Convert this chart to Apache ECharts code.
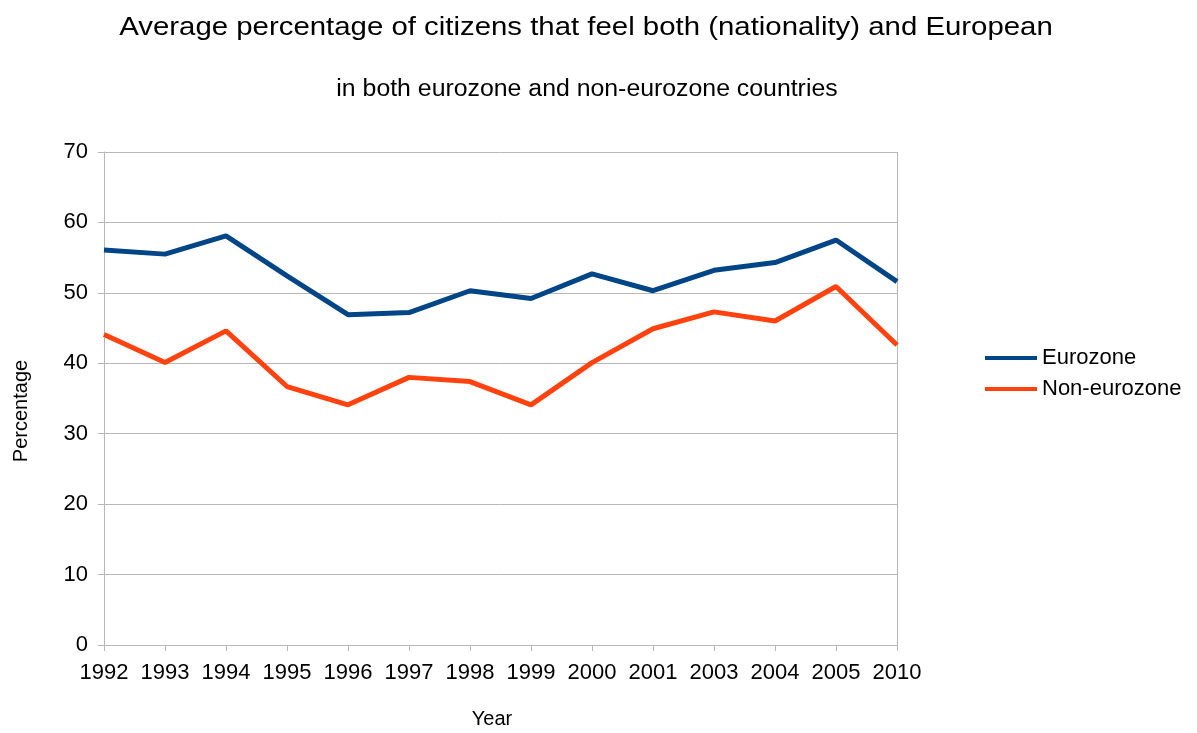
<!DOCTYPE html>
<html>
<head>
<meta charset="utf-8">
<script src="https://cdn.jsdelivr.net/npm/echarts@6/dist/echarts.min.js"></script>
<style>
  html, body { margin: 0; padding: 0; background: #fff; }
  #chart { width: 1197px; height: 733px; }
</style>
</head>
<body>
<div id="chart"></div>
<script>
// Survey years shown on the category axis
const years = ['1992', '1993', '1994', '1995', '1996', '1997', '1998', '1999', '2000', '2001', '2003', '2004', '2005', '2010'];

// Average share (%) of citizens feeling both national and European
const eurozone = [56.1, 55.5, 58.1, 52.4, 46.9, 47.2, 50.3, 49.2, 52.7, 50.3, 53.2, 54.3, 57.5, 51.6];
const nonEurozone = [44.1, 40.1, 44.6, 36.7, 34.1, 38.0, 37.4, 34.1, 40.1, 44.9, 47.3, 46.0, 50.9, 42.6];

const FONT = '"Liberation Sans", Arial, sans-serif';
const GRID_COLOR = '#b8b8b8';

const chart = echarts.init(document.getElementById('chart'), null, { renderer: 'canvas' });

chart.setOption({
  animation: false,
  backgroundColor: '#ffffff',
  textStyle: { fontFamily: FONT, color: '#000' },
  legend: {
    orient: 'vertical',
    left: 980, top: 342,
    itemWidth: 52, itemHeight: 4, itemGap: 9,
    icon: 'rect',
    textStyle: { fontFamily: FONT, fontSize: 22, color: '#000' },
    data: ['Eurozone', 'Non-eurozone']
  },
  grid: { left: 104, right: 300, top: 152, bottom: 88, containLabel: false, outerBoundsMode: 'none' },
  xAxis: {
    type: 'category',
    data: years,
    boundaryGap: false,
    axisLine: { show: true, lineStyle: { color: GRID_COLOR, width: 1 } },
    axisTick: { show: true, interval: 0, length: 6, lineStyle: { color: GRID_COLOR } },
    axisLabel: { interval: 0, hideOverlap: false, fontFamily: FONT, fontSize: 22, color: '#000', margin: 17 },
    splitLine: { show: false }
  },
  yAxis: {
    type: 'value',
    min: 0, max: 70, interval: 10,
    axisLine: { show: true, lineStyle: { color: GRID_COLOR, width: 1 } },
    axisTick: { show: true, length: 6, lineStyle: { color: GRID_COLOR } },
    axisLabel: { fontFamily: FONT, fontSize: 22, color: '#000', margin: 16 },
    splitLine: { show: true, lineStyle: { color: GRID_COLOR, width: 1 } }
  },
  series: [
    {
      name: 'Eurozone',
      type: 'line',
      data: eurozone,
      symbol: 'none',
      color: '#004586',
      lineStyle: { width: 5, color: '#004586' }
    },
    {
      name: 'Non-eurozone',
      type: 'line',
      data: nonEurozone,
      symbol: 'none',
      color: '#ff420e',
      lineStyle: { width: 5, color: '#ff420e' }
    }
  ],
  // Titles and axis names, drawn as text so they can be set a little wide
  graphic: [
    {
      type: 'text',
      x: 586, y: 28,
      scaleX: 1.175,
      style: {
        text: 'Average percentage of citizens that feel both (nationality) and European',
        font: '25px "Liberation Sans", Arial, sans-serif',
        fill: '#000', align: 'center', verticalAlign: 'middle'
      }
    },
    {
      type: 'text',
      x: 587, y: 90,
      scaleX: 1.08,
      style: {
        text: 'in both eurozone and non-eurozone countries',
        font: '23px "Liberation Sans", Arial, sans-serif',
        fill: '#000', align: 'center', verticalAlign: 'middle'
      }
    },
    {
      type: 'text',
      x: 21, y: 411,
      rotation: Math.PI / 2,
      style: {
        text: 'Percentage',
        font: '20px "Liberation Sans", Arial, sans-serif',
        fill: '#000', align: 'center', verticalAlign: 'middle'
      }
    },
    {
      type: 'text',
      x: 492, y: 719,
      style: {
        text: 'Year',
        font: '20px "Liberation Sans", Arial, sans-serif',
        fill: '#000', align: 'center', verticalAlign: 'middle'
      }
    },
    {
      // right edge of the plot frame
      type: 'line',
      shape: { x1: 897.5, y1: 152, x2: 897.5, y2: 645 },
      style: { stroke: GRID_COLOR, lineWidth: 1 }
    }
  ]
});
</script>
</body>
</html>
